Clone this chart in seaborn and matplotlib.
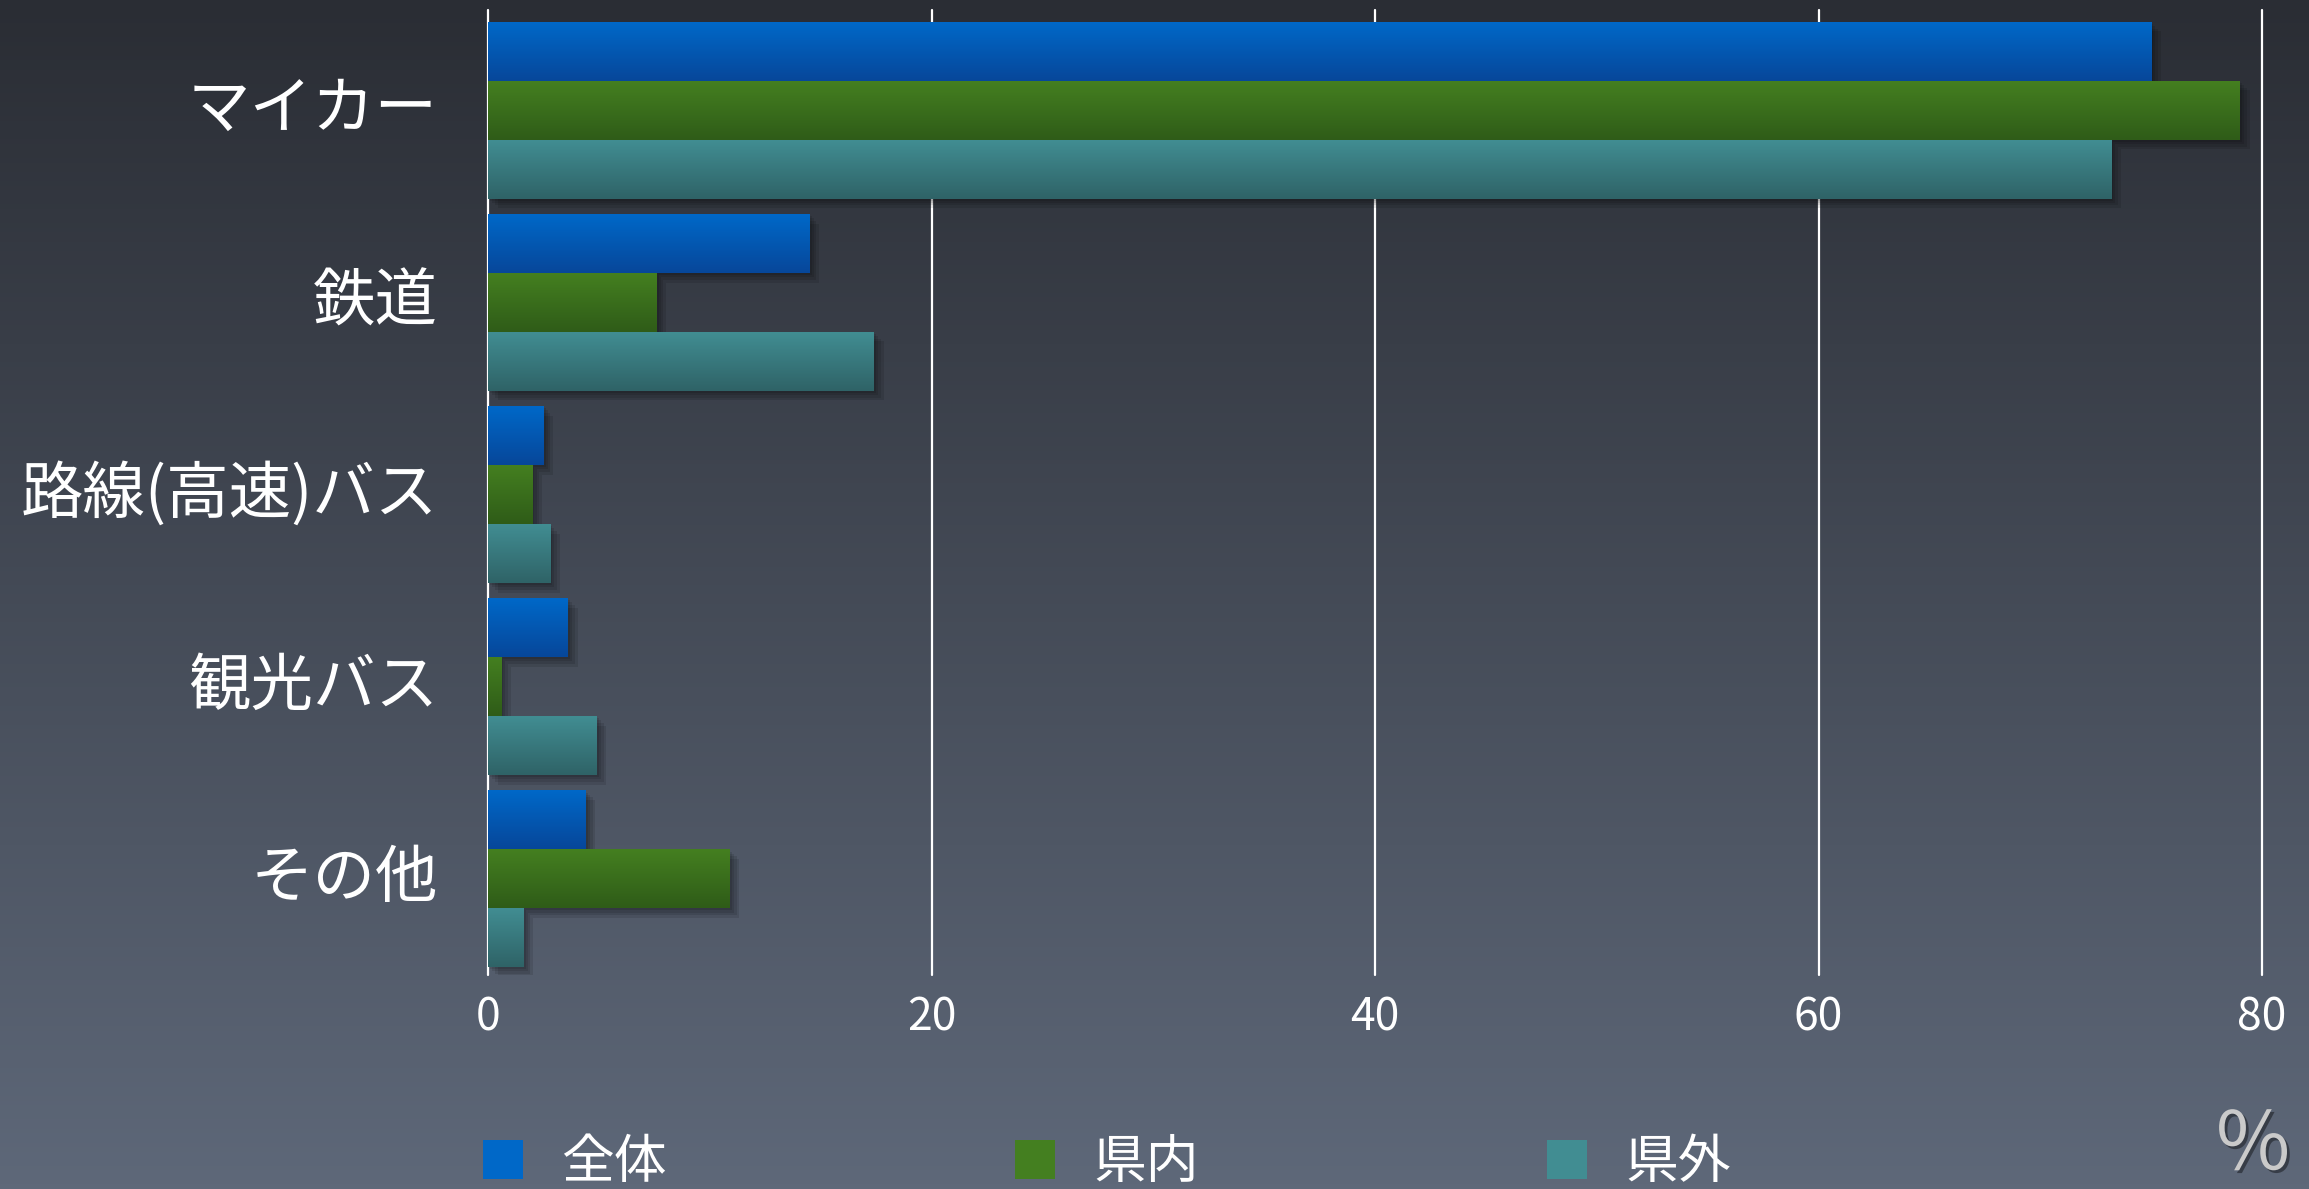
import numpy as np
import pandas as pd
import matplotlib
matplotlib.use("Agg")
import matplotlib.pyplot as plt
import matplotlib.patheffects as pe
import matplotlib.transforms as mtransforms
from matplotlib.colors import LinearSegmentedColormap
from matplotlib.patches import Patch
import seaborn as sns

# ============================================================
# Data
# ============================================================

categories = ["マイカー", "鉄道", "路線(高速)バス", "観光バス", "その他"]
series = ["全体", "県内", "県外"]

zentai = [75.0, 14.5, 2.5, 3.6, 4.4]
kennai = [79.0, 7.6, 2.0, 0.6, 10.9]
kengai = [73.2, 17.4, 2.8, 4.9, 1.6]

x_ticks = [0, 20, 40, 60, 80]

# gradient colours per series (top, bottom)
grad_colors = {
    "全体": ("#0068c8", "#07479a"),
    "県内": ("#447f20", "#2f5c18"),
    "県外": ("#418d92", "#2f6367"),
}

df = pd.DataFrame({
    "mode": categories * 3,
    "series": [s for s in series for _ in categories],
    "value": zentai + kennai + kengai,
})

# ============================================================
# Figure
# ============================================================

sns.set_theme(style="white")
plt.rcParams["font.family"] = ["Noto Sans CJK JP", "DejaVu Sans"]

W, H = 2309, 1189
fig = plt.figure(figsize=(W / 100, H / 100), dpi=100)

# background gradient
bg = fig.add_axes([0, 0, 1, 1], zorder=-10)
bg_cmap = LinearSegmentedColormap.from_list("bg", ["#2a2d34", "#5e6879"])
bg.imshow(np.linspace(0, 1, 256).reshape(-1, 1), aspect="auto", cmap=bg_cmap,
          extent=[0, 1, 0, 1], origin="upper")
bg.set_axis_off()

ax = fig.add_axes([488 / W, 1 - 975 / H, (2262 - 488) / W, (975 - 14) / H])
ax.set_facecolor("none")

palette = {k: v[0] for k, v in grad_colors.items()}
sns.barplot(
    data=df, y="mode", x="value", hue="series",
    order=categories, hue_order=series,
    palette=palette, orient="h", width=0.92, gap=0,
    linewidth=0, ax=ax, legend=False, zorder=3
)

# gradient fill + soft shadow for every bar
shadow = [pe.SimplePatchShadow(offset=(d, -d), shadow_rgbFace="black", alpha=0.10)
          for d in (7, 5, 3, 1.5)] + [pe.Normal()]
n_cat = len(categories)
for i, patch in enumerate(ax.patches):
    s = series[i // n_cat]
    top, bot = grad_colors[s]
    cmap = LinearSegmentedColormap.from_list(s, [top, bot])
    x0, y0 = patch.get_x(), patch.get_y()
    w, h = patch.get_width(), patch.get_height()
    patch.set_path_effects(shadow)
    im = ax.imshow(np.linspace(0, 1, 64).reshape(-1, 1), cmap=cmap, aspect="auto",
                   extent=[x0, x0 + w, y0 + h, y0], origin="upper",
                   zorder=4, interpolation="bilinear")
    im.set_clip_path(patch)

ax.set_xlim(0, 80)
ax.set_ylim(n_cat - 0.5, -0.5)
ax.set_xticks(x_ticks)
ax.set_xticklabels([str(t) for t in x_ticks])
ax.tick_params(axis="x", length=0, pad=14, labelsize=32, labelcolor="white")
ax.tick_params(axis="y", length=0, pad=36, labelsize=45, labelcolor="white")
ax.set_xlabel("")
ax.set_ylabel("")

# category labels sit a little above the group centre
lift = mtransforms.ScaledTranslation(0, 7 / 100, fig.dpi_scale_trans)
for lab in ax.get_yticklabels():
    lab.set_transform(lab.get_transform() + lift)

for t in x_ticks:
    ax.axvline(t, color="white", lw=1.6, zorder=1, ymin=0, ymax=1.004, clip_on=False)

for sp in ax.spines.values():
    sp.set_visible(False)
ax.grid(False)

# ============================================================
# Legend
# ============================================================

handles = [Patch(facecolor=grad_colors[s][0], edgecolor="none") for s in series]
fig.legend(handles, series, loc="center left",
           bbox_to_anchor=(483 / W, 1 - 1162 / H), ncol=3, frameon=False,
           fontsize=38, labelcolor="white", handlelength=0.76, handleheight=0.76,
           handletextpad=0.72, columnspacing=6.6, borderpad=0, borderaxespad=0)

# percent unit
fig.text(2253 / W, 1 - 1146 / H, "%", color="#cacaca", fontsize=58,
         ha="center", va="center",
         path_effects=[pe.withSimplePatchShadow(offset=(2, -2), shadow_rgbFace="black", alpha=0.4)])

fig.savefig("out.png", dpi=100)
plt.close(fig)
